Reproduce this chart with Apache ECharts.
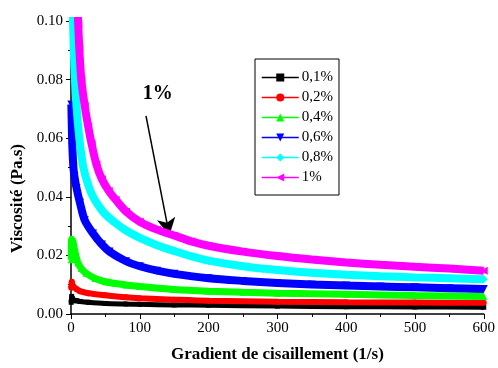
<!DOCTYPE html>
<html>
<head>
<meta charset="utf-8">
<script src="https://cdn.jsdelivr.net/npm/echarts@6/dist/echarts.min.js"></script>
<style>
  html, body { margin: 0; padding: 0; background: #fff; }
  #chart { width: 498px; height: 368px; }
</style>
</head>
<body>
<div id="chart"></div>
<script>
// gradient de cisaillement (1/s) et viscosité (Pa.s)
const x01 = [0.3, 1, 2, 4, 8, 13, 25, 50, 80, 100, 150, 200, 300, 400, 500, 600];
const v01 = [0.0040, 0.0060, 0.0052, 0.0047, 0.0045, 0.0043, 0.0040, 0.0036, 0.0034, 0.0033, 0.0031, 0.0030, 0.0027, 0.0025, 0.0024, 0.0023];

const x02 = [0.3, 1, 2, 4, 8, 13, 25, 50, 80, 100, 150, 200, 300, 400, 500, 600];
const v02 = [0.0090, 0.0110, 0.0100, 0.0092, 0.0085, 0.0078, 0.0071, 0.0064, 0.0057, 0.0054, 0.0049, 0.0045, 0.0042, 0.0040, 0.0039, 0.0038];

const x04 = [0.3, 1, 3, 5, 7, 10, 15, 22, 35, 50, 65, 80, 100, 150, 200, 250, 300, 400, 500, 600];
const v04 = [0.0185, 0.0255, 0.0245, 0.0220, 0.0200, 0.0175, 0.0155, 0.0139, 0.0121, 0.0110, 0.0104, 0.0099, 0.0094, 0.0084, 0.0078, 0.0074, 0.0071, 0.0067, 0.0063, 0.0060];

const x06 = [0.5, 1, 2, 3.5, 5, 8, 13, 20, 32, 45, 56, 80, 100, 125, 150, 200, 250, 300, 350, 400, 450, 500, 550, 600];
const v06 = [0.0715, 0.066, 0.057, 0.050, 0.047, 0.043, 0.038, 0.032, 0.0275, 0.0237, 0.0213, 0.018, 0.0163, 0.0148, 0.0137, 0.0122, 0.0113, 0.0106, 0.0101, 0.0097, 0.0094, 0.0091, 0.0088, 0.0085];

const x08 = [2, 3, 4, 6, 8, 10, 13, 18, 25, 32, 40, 50, 65, 80, 100, 125, 150, 175, 200, 250, 300, 350, 400, 450, 500, 550, 600];
const v08 = [0.106, 0.100, 0.090, 0.079, 0.071, 0.065, 0.058, 0.050, 0.044, 0.040, 0.037, 0.034, 0.031, 0.0285, 0.026, 0.0235, 0.0215, 0.0197, 0.0182, 0.0163, 0.0150, 0.0141, 0.0134, 0.0129, 0.0125, 0.0122, 0.0119];

const x1 = [9, 10.5, 12, 15, 20, 25, 30, 37, 45, 55, 65, 80, 100, 125, 150, 175, 200, 250, 300, 350, 400, 450, 500, 550, 600];
const v1 = [0.106, 0.099, 0.091, 0.080, 0.071, 0.064, 0.058, 0.051, 0.046, 0.042, 0.039, 0.035, 0.0315, 0.0288, 0.0268, 0.0248, 0.0233, 0.0213, 0.0198, 0.0186, 0.0176, 0.0168, 0.0161, 0.0155, 0.0148];

const names = ['0,1%', '0,2%', '0,4%', '0,6%', '0,8%', '1%'];
const colors = ['#000000', '#ff0000', '#00ff00', '#0000ff', '#00ffff', '#ff00ff'];
const symbols = [
    'rect',
    'circle',
    'triangle',
    'path://M0,0L10,0L5,10Z',
    'diamond',
    'path://M0,5L10,0L10,10Z'
];
const bandWidths = [5, 6, 7, 8, 8, 8];
const xs = [x01, x02, x04, x06, x08, x1];
const vs = [v01, v02, v04, v06, v08, v1];

// flèche et étiquette "1%"
const arrowFrom = [109, 0.0676];
const arrowTo = [143, 0.0269];
const arrowText = [126, 0.0752];

const serif = "'Liberation Serif', 'Times New Roman', serif";

const chart = echarts.init(document.getElementById('chart'));

const series = names.map((name, k) => {
    const s = {
        name: name,
        type: 'line',
        data: xs[k].map((x, i) => [x, vs[k][i]]),
        smooth: 0.3,
        symbol: symbols[k],
        symbolSize: bandWidths[k],
        color: colors[k],
        lineStyle: { width: bandWidths[k], color: colors[k] },
        itemStyle: { color: colors[k] },
        clip: true,
        z: 2 + k
    };
    if (name === '1%') {
        s.markLine = {
            silent: true,
            symbol: ['none', 'arrow'],
            symbolSize: [14, 17],
            lineStyle: { color: '#000', width: 1.5, type: 'solid' },
            itemStyle: { color: '#000' },
            label: { show: false },
            data: [[{ coord: arrowFrom }, { coord: arrowTo }]]
        };
        s.markPoint = {
            silent: true,
            symbol: 'circle',
            symbolSize: 0,
            label: {
                show: true,
                formatter: '1%',
                color: '#000',
                fontFamily: serif,
                fontWeight: 'bold',
                fontSize: 20
            },
            data: [{ coord: arrowText }]
        };
    }
    return s;
});

const option = {
    animation: false,
    backgroundColor: '#fff',
    grid: { left: 71, right: 11, top: 21, bottom: 52 },
    legend: {
        orient: 'vertical',
        left: 255,
        top: 59,
        padding: [11, 6, 10, 6],
        borderColor: '#000',
        borderWidth: 1,
        itemWidth: 37,
        itemHeight: 10,
        itemGap: 5,
        itemStyle: { borderWidth: 0 },
        lineStyle: { width: 1.5 },
        textStyle: { fontFamily: serif, fontSize: 15, color: '#000', padding: [0, 0, 0, -2] },
        data: names
    },
    xAxis: {
        type: 'value',
        min: 0,
        max: 600,
        interval: 100,
        name: 'Gradient de cisaillement (1/s)',
        nameLocation: 'middle',
        nameGap: 32,
        nameTextStyle: { fontFamily: serif, fontSize: 17, fontWeight: 'bold', color: '#000' },
        axisLine: { show: true, onZero: false, lineStyle: { color: '#000', width: 1.5 } },
        axisTick: { show: true, inside: false, length: 5, lineStyle: { color: '#000', width: 1 } },
        minorTick: { show: true, splitNumber: 2, length: 3, lineStyle: { color: '#000', width: 1 } },
        axisLabel: { fontFamily: serif, fontSize: 15, color: '#000', margin: 7 },
        splitLine: { show: false }
    },
    yAxis: {
        type: 'value',
        min: 0,
        max: 0.1,
        interval: 0.02,
        name: 'Viscosité (Pa.s)',
        nameLocation: 'middle',
        nameGap: 45,
        nameTextStyle: {
            fontFamily: serif, fontSize: 17, fontWeight: 'bold', color: '#000',
            padding: [0, 62, 0, 0]
        },
        axisLine: { show: true, onZero: false, lineStyle: { color: '#000', width: 1.5 } },
        axisTick: { show: true, inside: false, length: 5, lineStyle: { color: '#000', width: 1 } },
        minorTick: { show: true, splitNumber: 2, length: 3, lineStyle: { color: '#000', width: 1 } },
        axisLabel: {
            fontFamily: serif, fontSize: 15, color: '#000', margin: 8,
            formatter: v => v.toFixed(2)
        },
        splitLine: { show: false }
    },
    series: series
};

chart.setOption(option);
</script>
</body>
</html>
